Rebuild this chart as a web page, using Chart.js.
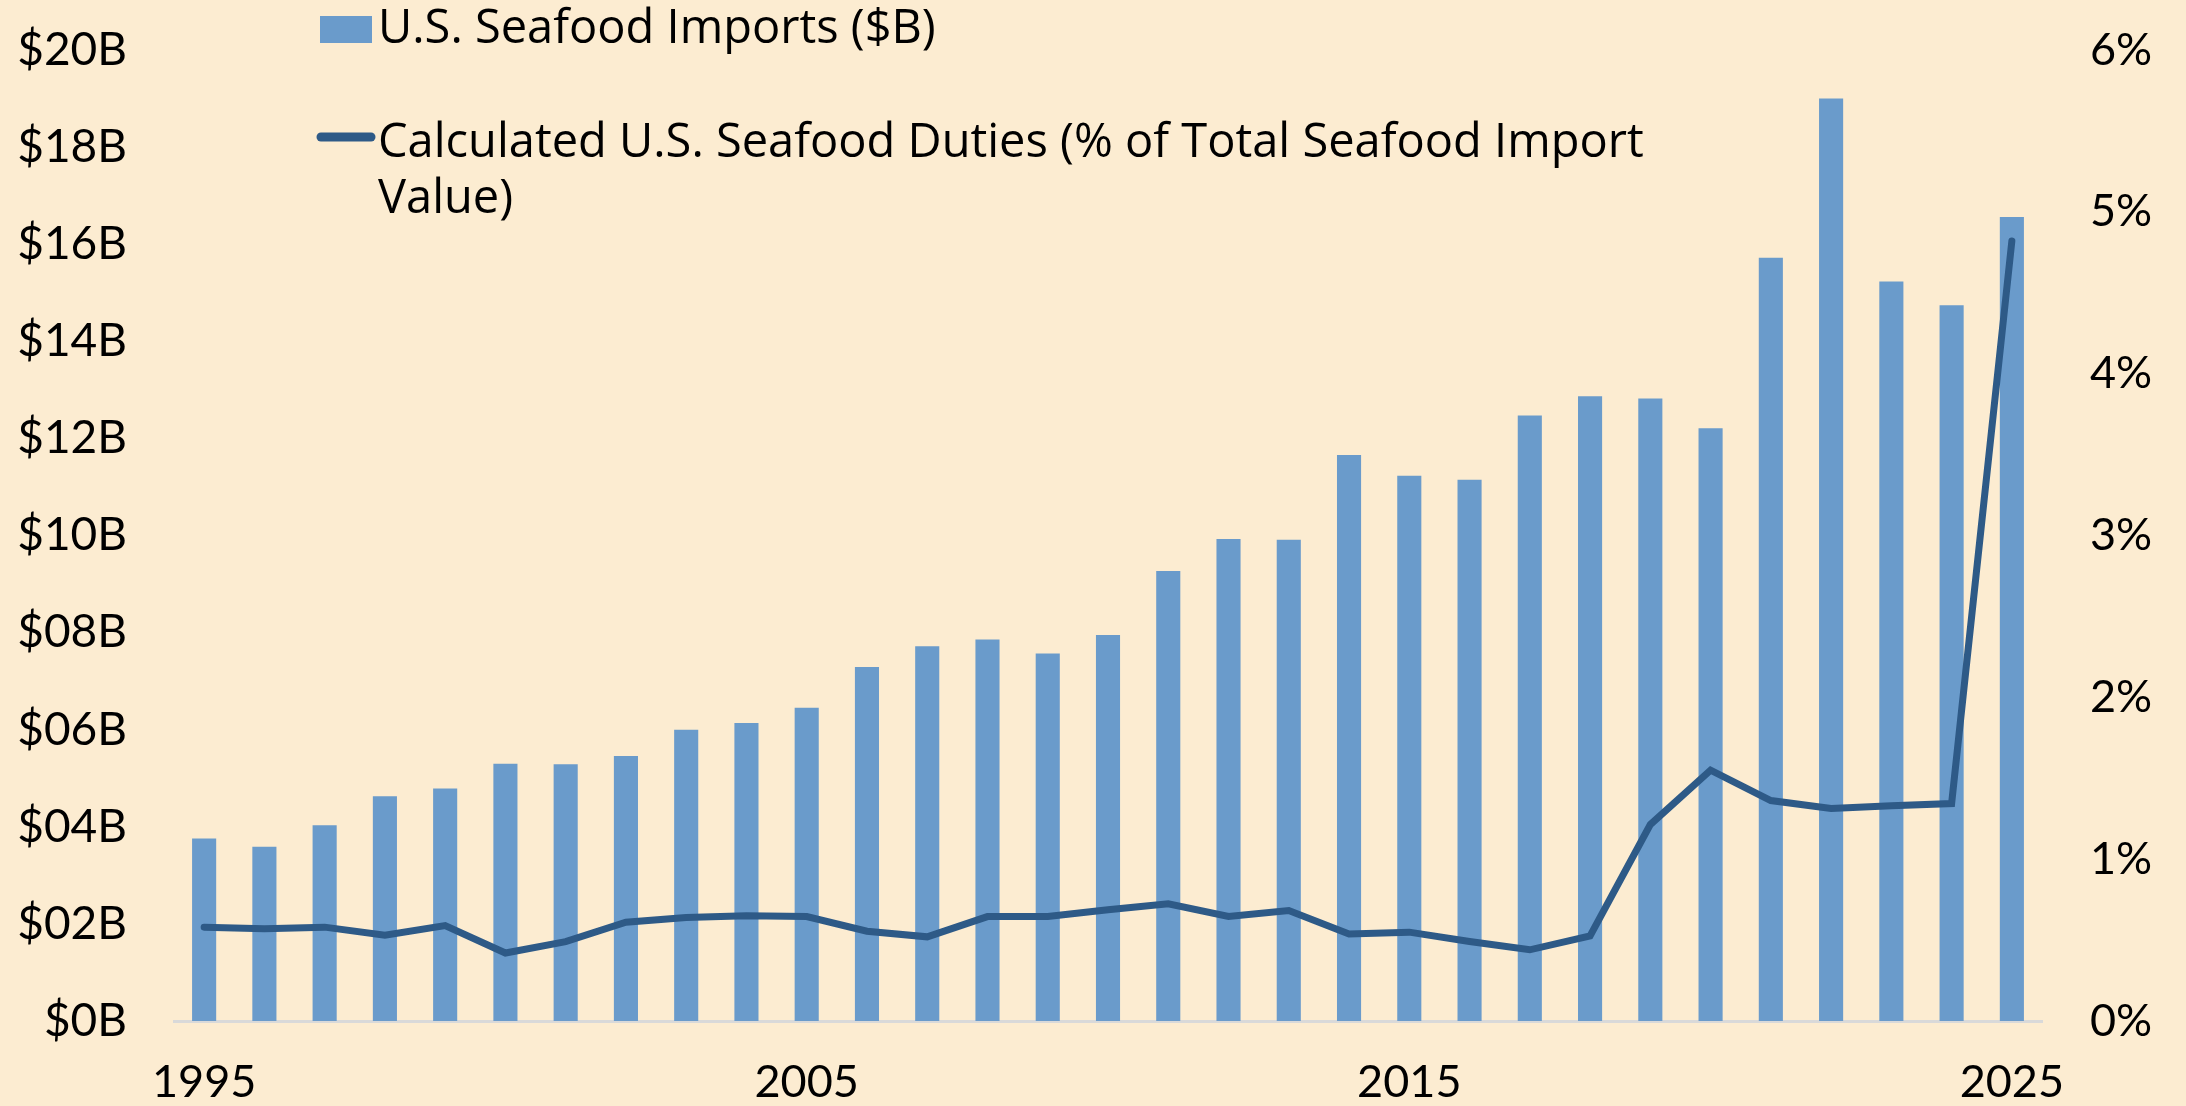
<!DOCTYPE html>
<html>
<head>
<meta charset="utf-8">
<script src="https://cdn.jsdelivr.net/npm/chart.js@4.4.1/dist/chart.umd.min.js"></script>
<style>
  html, body { margin: 0; padding: 0; background: #FCECD1; }
  #wrap { width: 2186px; height: 1106px; position: relative; }
  canvas { display: block; }
</style>
</head>
<body>
<div id="wrap"><canvas id="c" width="2186" height="1106"></canvas></div>
<script>
const years = ['1995','1996','1997','1998','1999','2000','2001','2002','2003','2004',
               '2005','2006','2007','2008','2009','2010','2011','2012','2013','2014',
               '2015','2016','2017','2018','2019','2020','2021','2022','2023','2024','2025'];
const importsB = [3.76, 3.59, 4.03, 4.63, 4.79, 5.30, 5.29, 5.46, 6.00, 6.14,
                  6.45, 7.29, 7.72, 7.86, 7.57, 7.95, 9.27, 9.93, 9.91, 11.66,
                  11.23, 11.15, 12.47, 12.87, 12.82, 12.21, 15.72, 19.00, 15.23, 14.74, 16.56];
const dutiesPct = [0.58, 0.57, 0.58, 0.53, 0.59, 0.42, 0.49, 0.61, 0.64, 0.65,
                   0.645, 0.555, 0.52, 0.645, 0.646, 0.687, 0.724, 0.646, 0.683, 0.537,
                   0.549, 0.491, 0.44, 0.526, 1.214, 1.55, 1.362, 1.313, 1.33, 1.344, 4.82];
const xTickLabels = ['1995', '2005', '2015', '2025'];
const leftTickLabels = ['$0B','$02B','$04B','$06B','$08B','$10B','$12B','$14B','$16B','$18B','$20B'];
const rightTickLabels = ['0%','1%','2%','3%','4%','5%','6%'];
const seriesNames = ['U.S. Seafood Imports ($B)',
                     'Calculated U.S. Seafood Duties (% of Total Seafood Import Value)'];

const BG = '#FCECD1';
const BAR = '#6A9BCB';
const LINE = '#2E5A87';

const bgPlugin = {
  id: 'bg',
  beforeDraw(chart) {
    const ctx = chart.ctx;
    ctx.save();
    ctx.fillStyle = BG;
    ctx.fillRect(0, 0, chart.width, chart.height);
    ctx.restore();
  }
};

function wrapText(ctx, text, maxW) {
  const words = text.split(' ');
  const lines = [];
  let cur = '';
  for (const w of words) {
    const t = cur ? cur + ' ' + w : w;
    if (ctx.measureText(t).width > maxW && cur) { lines.push(cur); cur = w; }
    else cur = t;
  }
  if (cur) lines.push(cur);
  return lines;
}

const legendPlugin = {
  id: 'customLegend',
  afterDraw(chart) {
    const ctx = chart.ctx;
    const ds = chart.data.datasets;
    ctx.save();
    ctx.font = '47px "Open Sans"';
    ctx.fillStyle = '#000';
    ctx.textBaseline = 'alphabetic';
    ctx.textAlign = 'left';
    const textX = 378;
    const lineH = 56;
    // entry 1: bar
    ctx.fillStyle = ds[0].backgroundColor;
    ctx.fillRect(320, 16, 52, 27);
    ctx.fillStyle = '#000';
    let y = 43;
    for (const l of wrapText(ctx, ds[0].label, 1340)) { ctx.fillText(l, textX, y); y += lineH; }
    // entry 2: line
    y = 157;
    ctx.strokeStyle = ds[1].borderColor;
    ctx.lineWidth = 9;
    ctx.lineCap = 'round';
    ctx.beginPath();
    ctx.moveTo(321, 137);
    ctx.lineTo(371, 137);
    ctx.stroke();
    for (const l of wrapText(ctx, ds[1].label, 1340)) { ctx.fillText(l, textX, y); y += lineH; }
    ctx.restore();
  }
};

new Chart(document.getElementById('c'), {
  data: {
    labels: years,
    datasets: [
      {
        type: 'bar',
        label: seriesNames[0],
        data: importsB,
        backgroundColor: BAR,
        yAxisID: 'y',
        categoryPercentage: 1.0,
        barPercentage: 0.40,
        order: 2
      },
      {
        type: 'line',
        label: seriesNames[1],
        data: dutiesPct,
        borderColor: LINE,
        backgroundColor: LINE,
        borderWidth: 7,
        borderCapStyle: 'round',
        borderJoinStyle: 'miter',
        pointRadius: 0,
        tension: 0,
        yAxisID: 'y1',
        order: 1
      }
    ]
  },
  options: {
    responsive: false,
    animation: false,
    devicePixelRatio: 1,
    layout: { padding: { top: 50, bottom: 0, left: 0, right: 0 } },
    plugins: {
      legend: { display: false },
      tooltip: { enabled: false },
      title: { display: false }
    },
    scales: {
      x: {
        offset: true,
        grid: { display: false, drawTicks: false },
        border: { display: true, color: '#D9D9D9', width: 3 },
        ticks: {
          autoSkip: false,
          maxRotation: 0,
          minRotation: 0,
          padding: 34,
          color: '#000',
          font: { family: 'Lato', size: 45 },
          callback: function (v, i) {
            const lab = years[i];
            return xTickLabels.includes(lab) ? lab : '';
          }
        },
        afterFit(s) { s.height = 85; }
      },
      y: {
        position: 'left',
        min: 0, max: 20,
        grid: { display: false, drawTicks: false },
        border: { display: false },
        ticks: {
          stepSize: 2,
          padding: 47,
          color: '#000',
          font: { family: 'Lato', size: 46 },
          callback: (v) => leftTickLabels[Math.round(v / 2)]
        },
        afterFit(s) { s.width = 174; s.paddingTop = 0; s.paddingBottom = 0; }
      },
      y1: {
        position: 'right',
        min: 0, max: 6,
        grid: { display: false, drawTicks: false },
        border: { display: false },
        ticks: {
          stepSize: 1,
          padding: 48,
          color: '#000',
          font: { family: 'Lato', size: 45 },
          callback: (v) => rightTickLabels[Math.round(v)]
        },
        afterFit(s) { s.width = 144; s.paddingTop = 0; s.paddingBottom = 0; }
      }
    }
  },
  plugins: [bgPlugin, legendPlugin]
});
</script>
</body>
</html>
